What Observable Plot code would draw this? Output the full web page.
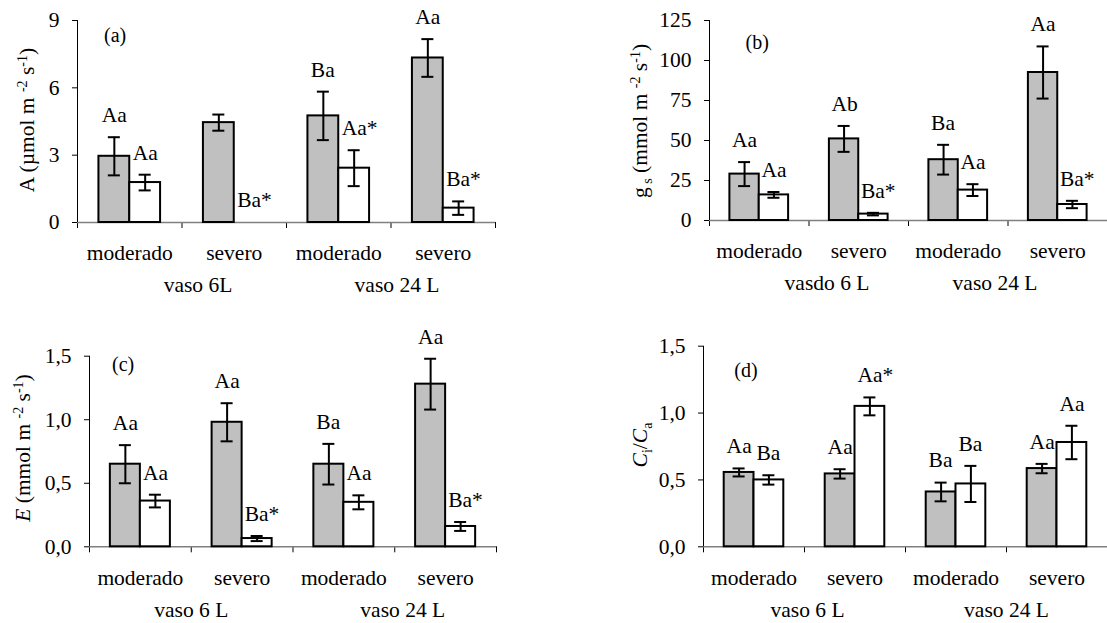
<!DOCTYPE html>
<html><head><meta charset="utf-8">
<script src="https://cdn.jsdelivr.net/npm/d3@7"></script>
<script src="https://cdn.jsdelivr.net/npm/@observablehq/plot@0.6"></script>
<style>
html,body{margin:0;padding:0;background:#fff;overflow:hidden;}
#chart{position:relative;width:1107px;height:623px;overflow:hidden;background:#fff;}
#chart svg{position:absolute;}
#chart svg, #chart svg text, #chart svg tspan{font-family:"Liberation Serif","Times New Roman",serif !important;}
</style></head><body><div id="chart"></div>
<script>
// ---------- data ----------
const categories = ["moderado", "severo", "moderado", "severo"];
const seriesNames = ["série cinza", "série branca"];
const seriesFills = ["#c0c0c0", "#ffffff"];

// (a) A
const aGray = [2.95, 4.45, 4.75, 7.33];
const aGrayErr = [0.85, 0.36, 1.08, 0.84];
const aWhite = [1.78, 0, 2.42, 0.64];
const aWhiteErr = [0.35, 0, 0.80, 0.30];
const aGrayLetters = ["Aa", "", "Ba", "Aa"];
const aWhiteLetters = ["Aa", "Ba*", "Aa*", "Ba*"];
const aTicks = [0, 3, 6, 9];
const aGroups = ["vaso 6L", "vaso 24 L"];

// (b) gs
const bGray = [29, 51, 38, 92.5];
const bGrayErr = [7.5, 8.1, 9.3, 16.3];
const bWhite = [16, 4, 19, 10];
const bWhiteErr = [1.8, 0.8, 3.7, 2.3];
const bGrayLetters = ["Aa", "Ab", "Ba", "Aa"];
const bWhiteLetters = ["Aa", "Ba*", "Aa", "Ba*"];
const bTicks = [0, 25, 50, 75, 100, 125];
const bGroups = ["vasdo 6 L", "vaso 24 L"];

// (c) E
const cGray = [0.65, 0.98, 0.65, 1.28];
const cGrayErr = [0.15, 0.15, 0.16, 0.20];
const cWhite = [0.36, 0.065, 0.35, 0.16];
const cWhiteErr = [0.05, 0.02, 0.055, 0.035];
const cGrayLetters = ["Aa", "Aa", "Ba", "Aa"];
const cWhiteLetters = ["Aa", "Ba*", "Aa", "Ba*"];
const cTicks = [0, 0.5, 1, 1.5];
const cGroups = ["vaso 6 L", "vaso 24 L"];

// (d) Ci/Ca
const dGray = [0.556, 0.545, 0.41, 0.585];
const dGrayErr = [0.03, 0.035, 0.07, 0.035];
const dWhite = [0.50, 1.05, 0.47, 0.78];
const dWhiteErr = [0.035, 0.067, 0.135, 0.125];
const dGrayLetters = ["Aa", "Aa", "Ba", "Aa"];
const dWhiteLetters = ["Ba", "Aa*", "Ba", "Aa"];
const dTicks = [0, 0.5, 1, 1.5];
const dGroups = ["vaso 6 L", "vaso 24 L"];

// ---------- drawing ----------
const FONT = "Liberation Serif, Times New Roman, serif";
const FS = 21.5;
const commaFmt = d => d3.format(".1f")(d).replace(".", ",");

function buildPanel(cfg) {
  const bw = 0.295;
  const rows = [];
  categories.forEach((c, i) => {
    rows.push({series: seriesNames[0], x1: i + 0.5 - bw, x2: i + 0.5, v: cfg.gray[i], e: cfg.grayErr[i], letter: cfg.grayLetters[i]});
    rows.push({series: seriesNames[1], x1: i + 0.5, x2: i + 0.5 + bw, v: cfg.white[i], e: cfg.whiteErr[i], letter: cfg.whiteLetters[i]});
  });
  rows.forEach(r => r.cx = (r.x1 + r.x2) / 2);
  const bandPx = (cfg.width - cfg.marginLeft - cfg.marginRight) / categories.length;
  const cap = 6 / bandPx;
  const errRows = rows.filter(r => r.e > 0);

  const svg = Plot.plot({
    width: cfg.width, height: cfg.height,
    marginTop: cfg.marginTop, marginRight: cfg.marginRight,
    marginBottom: cfg.marginBottom, marginLeft: cfg.marginLeft,
    x: {domain: [0, categories.length], axis: null},
    y: {domain: [0, cfg.ticks[cfg.ticks.length - 1]], axis: null},
    color: {domain: seriesNames, range: seriesFills},
    style: {fontFamily: FONT, fontSize: FS + "px", color: "#000", background: "none", overflow: "visible"},
    marks: [
      Plot.axisY({ticks: cfg.ticks, tickSize: 5, tickPadding: 13, tickFormat: cfg.tickFormat, label: null, fontSize: FS, stroke: "#000"}),
      Plot.axisX({ticks: d3.range(categories.length + 1), tickSize: 6, tickFormat: () => "", label: null, stroke: "#000"}),
      Plot.ruleY([0], {stroke: "#808080", strokeWidth: 1.5}),
      Plot.rect(rows, {x1: "x1", x2: "x2", y1: () => 0, y2: "v", fill: "series", stroke: "#000", strokeWidth: 2}),
      Plot.ruleX([0], {stroke: "#000", strokeWidth: 1}),
      Plot.ruleX(errRows, {x: "cx", y1: r => r.v - r.e, y2: r => r.v + r.e, stroke: "#000", strokeWidth: 2}),
      Plot.ruleY(errRows, {y: r => r.v + r.e, x1: r => r.cx - cap, x2: r => r.cx + cap, stroke: "#000", strokeWidth: 2}),
      Plot.ruleY(errRows, {y: r => r.v - r.e, x1: r => r.cx - cap, x2: r => r.cx + cap, stroke: "#000", strokeWidth: 2}),
      Plot.text(rows.filter(r => r.letter), {x: "cx", y: r => r.v + r.e, text: "letter", dy: -22, dx: -12.5, textAnchor: "start", fontSize: FS}),
      Plot.text(categories, {x: (d, i) => i + 0.5, y: () => 0, text: d => d, dy: 31, fontSize: FS}),
      Plot.text(cfg.groups, {x: (d, i) => 2 * i + 1 + cfg.groupDx[i] / bandPx, y: () => 0, text: d => d, dy: 63, fontSize: FS}),
      Plot.text([cfg.panelLabel], {x: () => cfg.panelPos[0], y: () => cfg.panelPos[1], text: d => d, fontSize: 20})
    ]
  });
  svg.style.left = cfg.left + "px";
  svg.style.top = cfg.top + "px";

  // rotated y-axis label with sub/superscripts
  const t = d3.select(svg).append("text")
    .attr("transform", `translate(${cfg.yLabelPos[0]},${cfg.yLabelPos[1]}) rotate(-90)`)
    .attr("text-anchor", "middle")
    .attr("font-size", FS)
    .attr("fill", "#000");
  let shift = 0;
  cfg.yLabel.forEach(p => {
    const target = p.sup ? -7 : p.sub ? 5 : 0;
    const ts = t.append("tspan").text(p.t).attr("dy", target - shift);
    shift = target;
    if (p.sup || p.sub) ts.attr("font-size", 14);
    if (p.it) ts.attr("font-style", "italic");
  });
  document.getElementById("chart").appendChild(svg);
}

const unitParts = [{t: " (mmol m "}, {t: "-2", sup: true}, {t: " s"}, {t: "-1", sup: true}, {t: ")"}];

buildPanel({
  left: 0, top: 0, width: 553, height: 311,
  marginLeft: 77, marginRight: 58, marginTop: 20, marginBottom: 89,
  gray: aGray, grayErr: aGrayErr, white: aWhite, whiteErr: aWhiteErr,
  grayLetters: aGrayLetters, whiteLetters: aWhiteLetters,
  ticks: aTicks, tickFormat: d3.format("d"), groups: aGroups, groupDx: [16, 6],
  panelLabel: "(a)", panelPos: [0.36, 8.33],
  yLabelPos: [34, 120],
  yLabel: [{t: "A (µmol m "}, {t: "-2", sup: true}, {t: " s"}, {t: "-1", sup: true}, {t: ")"}]
});

buildPanel({
  left: 553, top: 0, width: 554, height: 311,
  marginLeft: 156, marginRight: 0, marginTop: 20, marginBottom: 91,
  gray: bGray, grayErr: bGrayErr, white: bWhite, whiteErr: bWhiteErr,
  grayLetters: bGrayLetters, whiteLetters: bWhiteLetters,
  ticks: bTicks, tickFormat: d3.format("d"), groups: bGroups, groupDx: [18, -13],
  panelLabel: "(b)", panelPos: [0.48, 111],
  yLabelPos: [94, 121],
  yLabel: [{t: "g"}, {t: " s", sub: true}].concat(unitParts)
});

buildPanel({
  left: 0, top: 311, width: 553, height: 312,
  marginLeft: 89, marginRight: 57, marginTop: 44.7, marginBottom: 76.7,
  gray: cGray, grayErr: cGrayErr, white: cWhite, whiteErr: cWhiteErr,
  grayLetters: cGrayLetters, whiteLetters: cWhiteLetters,
  ticks: cTicks, tickFormat: commaFmt, groups: cGroups, groupDx: [0, 8],
  panelLabel: "(c)", panelPos: [0.33, 1.435],
  yLabelPos: [30, 137],
  yLabel: [{t: "E", it: true}].concat(unitParts)
});

buildPanel({
  left: 553, top: 311, width: 554, height: 312,
  marginLeft: 150, marginRight: 0, marginTop: 34.7, marginBottom: 76.7,
  gray: dGray, grayErr: dGrayErr, white: dWhite, whiteErr: dWhiteErr,
  grayLetters: dGrayLetters, whiteLetters: dWhiteLetters,
  ticks: dTicks, tickFormat: commaFmt, groups: dGroups, groupDx: [3, 0],
  panelLabel: "(d)", panelPos: [0.42, 1.318],
  yLabelPos: [94, 134],
  yLabel: [{t: "C", it: true}, {t: "i", sub: true}, {t: "/"}, {t: "C", it: true}, {t: "a", sub: true}]
});
</script></body></html>
